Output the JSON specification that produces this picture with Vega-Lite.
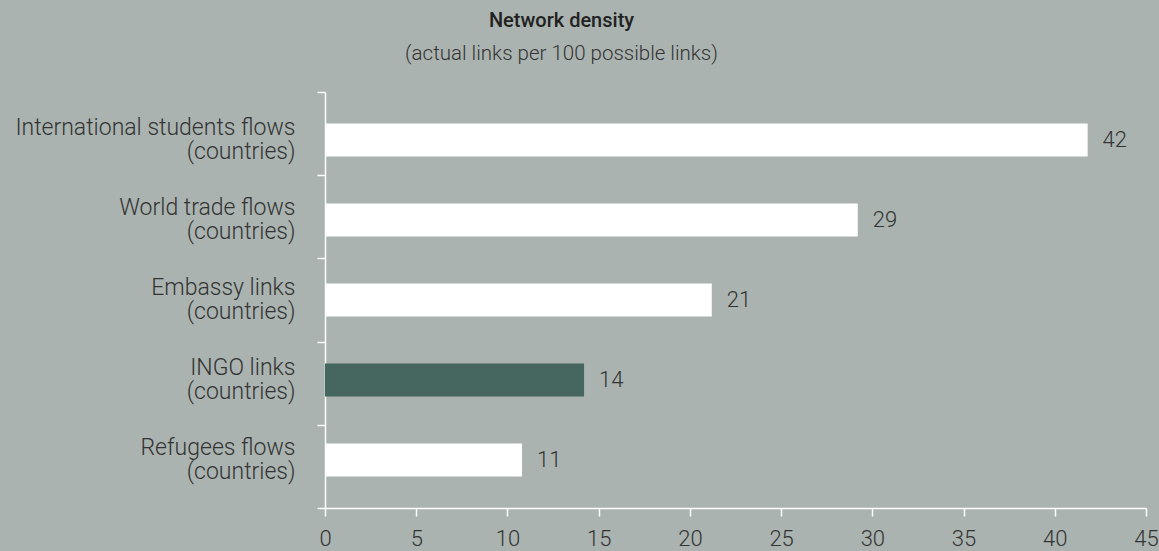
{
  "$schema": "https://vega.github.io/schema/vega-lite/v6.json",
  "autosize": "none",
  "width": 821,
  "height": 416,
  "padding": {"left": 325, "top": 92, "right": 13, "bottom": 43},
  "background": "#aab3b0",
  "config": {
    "view": {"stroke": null},
    "font": "Roboto",
    "text": {"font": "Roboto"}
  },
  "title": {
    "text": "Network density",
    "subtitle": "(actual links per 100 possible links)",
    "anchor": "middle",
    "frame": "group",
    "dx": -174,
    "offset": 27,
    "font": "Roboto",
    "fontSize": 20,
    "fontWeight": 500,
    "color": "#222222",
    "subtitleFont": "Roboto",
    "subtitleFontSize": 20.5,
    "subtitleFontWeight": 300,
    "subtitleColor": "#333333",
    "subtitlePadding": 13
  },
  "data": {
    "values": [
      {"label": "International students flows|(countries)", "value": 41.8, "text": "42", "highlight": "no"},
      {"label": "World trade flows|(countries)", "value": 29.2, "text": "29", "highlight": "no"},
      {"label": "Embassy links|(countries)", "value": 21.2, "text": "21", "highlight": "no"},
      {"label": "INGO links|(countries)", "value": 14.2, "text": "14", "highlight": "yes"},
      {"label": "Refugees flows|(countries)", "value": 10.8, "text": "11", "highlight": "no"}
    ]
  },
  "encoding": {
    "x": {
      "field": "value", "type": "quantitative",
      "scale": {"domain": [0, 45]},
      "axis": {
        "title": null, "values": [0, 5, 10, 15, 20, 25, 30, 35, 40, 45],
        "grid": false, "domainColor": "#ffffff", "domainWidth": 1.5,
        "tickColor": "#ffffff", "tickWidth": 1.5, "tickSize": 8,
        "labelFont": "Roboto", "labelFontSize": 22, "labelFontWeight": 300, "labelColor": "#333333",
        "labelPadding": 12, "labelFlush": false
      }
    }
  },
  "layer": [
    {
      "mark": {"type": "bar", "opacity": 0},
      "encoding": {
        "y": {
          "field": "label", "type": "nominal", "sort": null,
          "scale": {"paddingInner": 0, "paddingOuter": 0},
          "axis": {
            "title": null, "labels": false, "orient": "left",
            "domain": true, "domainColor": "#ffffff", "domainWidth": 1.5,
            "ticks": true, "tickBand": "extent", "tickColor": "#ffffff", "tickWidth": 1.5, "tickSize": 8,
            "grid": false
          }
        }
      }
    },
    {
      "layer": [
        {
          "mark": {"type": "bar"},
          "encoding": {
            "color": {
              "field": "highlight", "type": "nominal",
              "scale": {"domain": ["no", "yes"], "range": ["#ffffff", "#46675f"]},
              "legend": null
            }
          }
        },
        {
          "mark": {"type": "text", "align": "left", "baseline": "middle", "dx": 15, "fontSize": 22, "fontWeight": 300, "color": "#333333", "font": "Roboto"},
          "encoding": {"text": {"field": "text"}}
        }
      ],
      "encoding": {
        "y": {
          "field": "label", "type": "nominal", "sort": null,
          "scale": {"paddingInner": 0.5875, "paddingOuter": 0.39375},
          "axis": {
            "title": null, "orient": "left", "domain": false, "ticks": false, "grid": false,
            "labelExpr": "split(datum.label, '|')",
            "labelFont": "Roboto", "labelFontSize": 23, "labelFontWeight": 300, "labelColor": "#333333",
            "labelLineHeight": 24, "labelPadding": 30, "labelLimit": 400, "labelOffset": -12
          }
        }
      }
    }
  ],
  "resolve": {"scale": {"y": "independent"}, "axis": {"y": "independent"}}
}
